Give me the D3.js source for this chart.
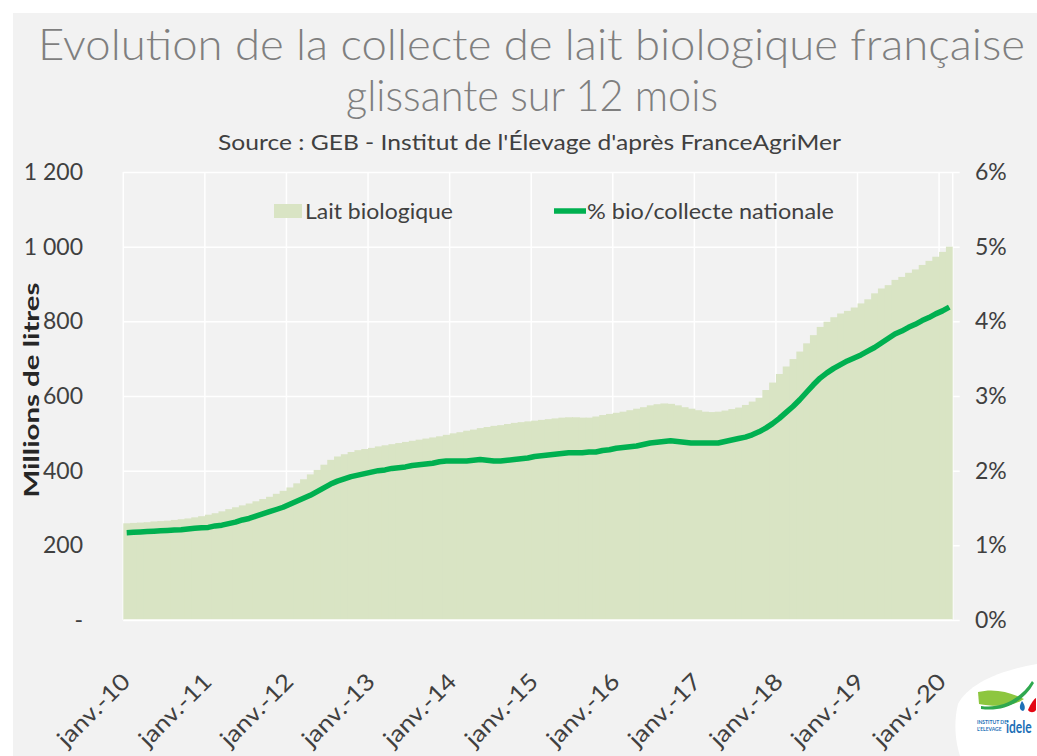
<!DOCTYPE html>
<html>
<head>
<meta charset="utf-8">
<script src="https://cdn.jsdelivr.net/npm/d3@7"></script>
<style>
  body { margin: 0; background: #fff; }
  svg text { font-family: Lato, "Open Sans", sans-serif; }
</style>
</head>
<body>
<div id="chart"></div>
<script>
// mois de janv.-10 a fevr.-20 (collecte glissante sur 12 mois)
var monthNames = ["janv.", "févr.", "mars", "avr.", "mai", "juin", "juil.", "août", "sept.", "oct.", "nov.", "déc."];
var months = d3.range(122).map(function(i) {
    return monthNames[i % 12] + "-" + (10 + Math.floor(i / 12));
});

// Lait biologique, millions de litres
var laitBio = [
    259, 260, 261, 262, 264, 265, 266, 268, 270, 272, 275, 278,
    282, 286, 291, 297, 302, 307, 312, 318, 324, 330, 338, 346,
    355, 366, 377, 390, 402, 416, 429, 438, 444, 450, 455, 458,
    461, 465, 468, 471, 474, 477, 480, 483, 486, 489, 492, 496,
    500, 503, 507, 510, 514, 517, 520, 522, 525, 528, 530, 532,
    534, 536, 538, 540, 542, 543, 543, 542, 542, 545, 549, 552,
    555, 558, 562, 566, 570, 575, 578, 580, 579, 575, 570, 566,
    562, 558, 557, 558, 561, 565, 569, 576, 585, 595, 616, 636,
    659, 679, 699, 719, 741, 763, 785, 799, 811, 821, 828, 837,
    848, 859, 875, 888, 897, 911, 919, 930, 939, 951, 962, 973,
    986, 1000
];

// % bio / collecte nationale
var pctBio = [
    1.17, 1.175, 1.18, 1.185, 1.19, 1.195, 1.20, 1.205, 1.21, 1.22, 1.23, 1.235,
    1.24, 1.26, 1.27, 1.29, 1.31, 1.34, 1.36, 1.39, 1.42, 1.45, 1.48, 1.51,
    1.55, 1.59, 1.63, 1.67, 1.72, 1.77, 1.82, 1.86, 1.89, 1.92, 1.94, 1.96,
    1.98, 2.00, 2.01, 2.03, 2.04, 2.05, 2.07, 2.08, 2.09, 2.10, 2.12, 2.13,
    2.13, 2.13, 2.13, 2.14, 2.15, 2.14, 2.13, 2.13, 2.14, 2.15, 2.16, 2.17,
    2.19, 2.20, 2.21, 2.22, 2.23, 2.24, 2.24, 2.24, 2.25, 2.25, 2.27, 2.28,
    2.30, 2.31, 2.32, 2.33, 2.35, 2.37, 2.38, 2.39, 2.40, 2.39, 2.38, 2.37,
    2.37, 2.37, 2.37, 2.37, 2.39, 2.41, 2.43, 2.45, 2.48, 2.52, 2.57, 2.63,
    2.70, 2.78, 2.86, 2.95, 3.05, 3.15, 3.24, 3.31, 3.37, 3.42, 3.47, 3.51,
    3.55, 3.60, 3.65, 3.71, 3.77, 3.83, 3.87, 3.92, 3.96, 4.01, 4.05, 4.10,
    4.14, 4.19
];

var tickLabels = ["janv.-10", "janv.-11", "janv.-12", "janv.-13", "janv.-14", "janv.-15",
    "janv.-16", "janv.-17", "janv.-18", "janv.-19", "janv.-20"];
var leftTicks = [0, 200, 400, 600, 800, 1000, 1200];
var rightTicks = [0, 1, 2, 3, 4, 5, 6];

var w = 1037, h = 756;
var plotLeft = 123.3, plotRight = 952.7, plotTop = 172, plotBottom = 620;

var barColor = "#d9e4c4";
var lineColor = "#00b050";
var textColor = "#404040";

var svg = d3.select("#chart").append("svg")
    .attr("width", w)
    .attr("height", h);

svg.append("rect").attr("width", w).attr("height", h).attr("fill", "#fff");
svg.append("rect")
    .attr("x", 13).attr("y", 13)
    .attr("width", w - 13).attr("height", h - 13)
    .attr("fill", "#f2f2f2");

var x = d3.scaleBand()
    .domain(months)
    .range([plotLeft, plotRight])
    .padding(0);

var y = d3.scaleLinear().domain([0, 1200]).range([plotBottom, plotTop]);
var y2 = d3.scaleLinear().domain([0, 6]).range([plotBottom, plotTop]);

// grille horizontale
svg.append("g")
    .attr("transform", "translate(" + plotLeft + ",0)")
    .call(d3.axisLeft(y).tickValues(leftTicks).tickSize(-(plotRight - plotLeft + 7)).tickFormat(""))
    .call(function(g) { g.select(".domain").remove(); })
    .selectAll("line")
    .attr("stroke", "#fff")
    .attr("stroke-width", 1.5);

// grille verticale (debut de chaque annee)
svg.append("g")
    .selectAll("line")
    .data(tickLabels.concat(["fin"]))
    .enter()
    .append("line")
    .attr("x1", function(d) { return d === "fin" ? plotRight : x(d); })
    .attr("x2", function(d) { return d === "fin" ? plotRight : x(d); })
    .attr("y1", plotTop)
    .attr("y2", plotBottom)
    .attr("stroke", "#fff")
    .attr("stroke-width", 1.5);

// barres
svg.selectAll(".bar")
    .data(laitBio)
    .enter()
    .append("rect")
    .attr("class", "bar")
    .attr("x", function(d, i) { return x(months[i]); })
    .attr("width", function(d, i) { return i === laitBio.length - 1 ? x.bandwidth() : x.bandwidth() + 1; })
    .attr("y", function(d) { return y(d); })
    .attr("height", function(d) { return plotBottom - y(d); })
    .attr("fill", barColor);

// axe du bas
svg.append("line")
    .attr("x1", plotLeft).attr("x2", plotRight)
    .attr("y1", plotBottom).attr("y2", plotBottom)
    .attr("stroke", "#fff").attr("stroke-width", 1.5);

// courbe % bio
var line = d3.line()
    .x(function(d, i) { return x(months[i]) + x.bandwidth() / 2; })
    .y(function(d) { return y2(d); });

svg.append("path")
    .datum(pctBio)
    .attr("d", line)
    .attr("fill", "none")
    .attr("stroke", lineColor)
    .attr("stroke-width", 5.5)
    .attr("stroke-linejoin", "round");

// axe gauche
var fmt = function(d) {
    if (d === 0) return "-";
    return d3.format(",")(d).replace(",", " ");
};
svg.append("g")
    .attr("transform", "translate(83,0)")
    .call(d3.axisLeft(y).tickValues(leftTicks).tickSize(0).tickPadding(0).tickFormat(fmt))
    .call(function(g) { g.select(".domain").remove(); })
    .selectAll("text")
    .attr("fill", textColor)
    .style("font-size", "23px");

// axe droit
svg.append("g")
    .attr("transform", "translate(975,0)")
    .call(d3.axisRight(y2).tickValues(rightTicks).tickSize(0).tickPadding(0)
        .tickFormat(function(d) { return d + "%"; }))
    .call(function(g) { g.select(".domain").remove(); })
    .selectAll("text")
    .attr("fill", textColor)
    .style("font-size", "23px");

// etiquettes des mois
svg.selectAll(".x-label")
    .data(tickLabels)
    .enter()
    .append("text")
    .attr("class", "x-label")
    .attr("transform", function(d) {
        return "translate(" + (x(d) + x.bandwidth() / 2 + 5) + "," + 683 + ") rotate(-45)";
    })
    .attr("text-anchor", "end")
    .attr("fill", textColor)
    .style("font-size", "23px")
    .attr("textLength", 92)
    .attr("lengthAdjust", "spacingAndGlyphs")
    .text(function(d) { return d; });

// titre de l'axe
svg.append("text")
    .attr("transform", "translate(39,390) rotate(-90)")
    .attr("text-anchor", "middle")
    .attr("fill", "#262626")
    .style("font-size", "20px")
    .style("font-weight", "bold")
    .attr("textLength", 215)
    .attr("lengthAdjust", "spacingAndGlyphs")
    .text("Millions de litres");

// titres
svg.append("text")
    .attr("x", 531.5).attr("y", 60)
    .attr("text-anchor", "middle")
    .attr("fill", "#7f7f7f")
    .style("font-size", "44px")
    .style("font-weight", 300)
    .attr("textLength", 987)
    .attr("lengthAdjust", "spacingAndGlyphs")
    .text("Evolution de la collecte de lait biologique française");

svg.append("text")
    .attr("x", 532).attr("y", 111)
    .attr("text-anchor", "middle")
    .attr("fill", "#7f7f7f")
    .style("font-size", "44px")
    .style("font-weight", 300)
    .attr("textLength", 372)
    .attr("lengthAdjust", "spacingAndGlyphs")
    .text("glissante sur 12 mois");

svg.append("text")
    .attr("x", 529.5).attr("y", 150)
    .attr("text-anchor", "middle")
    .attr("fill", textColor)
    .style("font-size", "22px")
    .attr("textLength", 623)
    .attr("lengthAdjust", "spacingAndGlyphs")
    .text("Source : GEB - Institut de l'Élevage d'après FranceAgriMer");

// legende
var legend = svg.append("g");
legend.append("rect")
    .attr("x", 274).attr("y", 204)
    .attr("width", 28).attr("height", 14)
    .attr("fill", barColor);
legend.append("text")
    .attr("x", 305).attr("y", 219)
    .attr("fill", textColor)
    .style("font-size", "22px")
    .attr("textLength", 148)
    .attr("lengthAdjust", "spacingAndGlyphs")
    .text("Lait biologique");
legend.append("line")
    .attr("x1", 554).attr("x2", 586)
    .attr("y1", 211).attr("y2", 211)
    .attr("stroke", lineColor)
    .attr("stroke-width", 5.5);
legend.append("text")
    .attr("x", 587).attr("y", 219)
    .attr("fill", textColor)
    .style("font-size", "22px")
    .attr("textLength", 247)
    .attr("lengthAdjust", "spacingAndGlyphs")
    .text("% bio/collecte nationale");

// logo idele
var logo = svg.append("g");
logo.append("path")
    .attr("d", "M1037,664 C1000,670 968,684 958,704 C953,724 956,744 960,756 L1037,756 Z")
    .attr("fill", "#fff");
logo.append("path")
    .attr("d", "M978,692 C994,688 1010,692 1024,699 C1012,707 994,707 979,704 Z")
    .attr("fill", "#8dc63f");
logo.append("path")
    .attr("d", "M981,706 C1000,709 1020,700 1032,681 L1034,683 C1023,703 1003,712 981,709 Z")
    .attr("fill", "#2fa84f");
logo.append("path")
    .attr("d", "M1028,710 C1031,703 1034,699 1036,698 L1036,710 C1034,713 1030,713 1028,710 Z")
    .attr("fill", "#e30613");
logo.append("path")
    .attr("d", "M1022,701 C1019,706 1019,710 1023,711 C1026,709 1025,705 1022,701 Z")
    .attr("fill", "#1d70b7");
logo.append("text")
    .attr("x", 977).attr("y", 724)
    .attr("fill", "#1d70b7")
    .style("font-size", "5px")
    .style("font-weight", "bold")
    .text("INSTITUT DE");
logo.append("text")
    .attr("x", 977).attr("y", 731)
    .attr("fill", "#1d70b7")
    .style("font-size", "5px")
    .style("font-weight", "bold")
    .text("L'ELEVAGE");
logo.append("g")
    .attr("transform", "translate(1006,733) scale(1,1.4)")
    .append("text")
    .attr("fill", "#1d70b7")
    .style("font-size", "12px")
    .style("font-weight", "bold")
    .text("idele");
</script>
</body>
</html>
